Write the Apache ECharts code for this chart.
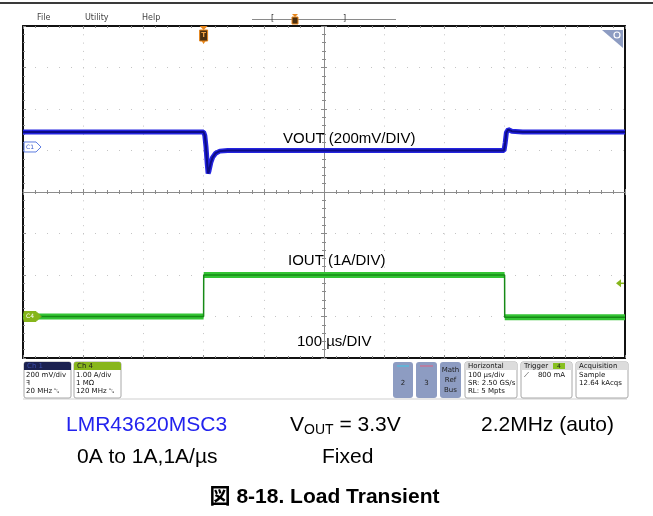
<!DOCTYPE html>
<html><head><meta charset="utf-8">
<script src="https://cdn.jsdelivr.net/npm/echarts@6/dist/echarts.min.js"></script>
<style>html,body{margin:0;padding:0;background:#fff}#c{width:653px;height:516px}</style>
</head><body><div id="c"></div>
<script>
// ---- data (time in µs relative to trigger; 100 µs/div) ----
const voutT  = [-300, 0, 2, 4, 6, 7.5, 9, 12, 15, 20, 27, 40, 200, 499, 501, 503, 506, 512, 530, 700];
const voutMv = [72, 72, 55, 0, -80, -128, -115, -75, -50, -30, -20, -17, -17, -17, 20, 70, 84, 76, 72, 72];
const ioutT  = [-300, 0, 0.2, 500, 500.2, 700];
const ioutA  = [0, 0, 1, 1, -0.02, -0.02];
const trigLevelA = 0.8;

const FONT = '"Liberation Sans", Arial, sans-serif';
const UI = '"DejaVu Sans", "Liberation Sans", sans-serif';

function pairs(t, v){ return t.map((x,i)=>[x, v[i]]); }
function band(t, v){ // break vertical steps so the thick band only follows flat parts
  const out=[];
  for(let i=0;i<t.length;i++){
    if(i>0 && (t[i]-t[i-1])<1){ out.push([t[i], '-']); }
    out.push([t[i], v[i]]);
  }
  return out;
}

const chart = echarts.init(document.getElementById('c'), null, {renderer:'canvas'});
const gridLineCol = '#c4c4c4';
const tickCol = '#8a8a8a';
const xBase = {type:'value', min:-300, max:700, interval:100, axisLabel:{show:false}};
const yBase = {type:'value', min:-1, max:7, interval:1, axisLabel:{show:false}};

const option = {
  animation:false,
  grid:{left:23, top:26, width:602, height:332, containLabel:false},
  xAxis:[
    Object.assign({}, xBase, {position:'bottom', axisLine:{show:true, onZero:false, lineStyle:{color:'#111', width:2}},
      axisTick:{show:true, inside:true, length:3, lineStyle:{color:tickCol}},
      minorTick:{show:true, splitNumber:5, length:2, lineStyle:{color:tickCol}},
      splitLine:{show:true, lineStyle:{color:gridLineCol, type:[1,7.3]}}}),
    Object.assign({}, xBase, {position:'top', axisLine:{show:true, onZero:false, lineStyle:{color:'#111', width:2}},
      axisTick:{show:true, inside:true, length:3, lineStyle:{color:tickCol}},
      minorTick:{show:true, splitNumber:5, length:2, lineStyle:{color:tickCol}}, splitLine:{show:false}}),
    Object.assign({}, xBase, {position:'bottom', offset:-166, axisLine:{show:true, onZero:false, lineStyle:{color:'#8c8c8c', width:1}},
      axisTick:{show:true, inside:false, length:3, lineStyle:{color:tickCol}},
      minorTick:{show:true, splitNumber:5, length:2, lineStyle:{color:tickCol}}, splitLine:{show:false}}),
    Object.assign({}, xBase, {position:'bottom', offset:-166, axisLine:{show:false, onZero:false},
      axisTick:{show:true, inside:true, length:3, lineStyle:{color:tickCol}},
      minorTick:{show:true, splitNumber:5, length:2, lineStyle:{color:tickCol}}, splitLine:{show:false}})
  ],
  yAxis:[
    Object.assign({}, yBase, {position:'left', axisLine:{show:true, onZero:false, lineStyle:{color:'#111', width:2}},
      axisTick:{show:true, inside:true, length:3, lineStyle:{color:tickCol}},
      minorTick:{show:true, splitNumber:5, length:2, lineStyle:{color:tickCol}},
      splitLine:{show:true, lineStyle:{color:gridLineCol, type:[1,11]}}}),
    {type:'value', min:-1017, max:583, position:'right', axisLabel:{show:false},
      axisLine:{show:true, onZero:false, lineStyle:{color:'#111', width:2}}, axisTick:{show:false}, splitLine:{show:false}},
    Object.assign({}, yBase, {position:'left', offset:-301, axisLine:{show:true, onZero:false, lineStyle:{color:'#8c8c8c', width:1}},
      axisTick:{show:true, inside:false, length:3, lineStyle:{color:tickCol}},
      minorTick:{show:true, splitNumber:5, length:2, lineStyle:{color:tickCol}}, splitLine:{show:false}}),
    Object.assign({}, yBase, {position:'left', offset:-301, axisLine:{show:false, onZero:false},
      axisTick:{show:true, inside:true, length:3, lineStyle:{color:tickCol}},
      minorTick:{show:true, splitNumber:5, length:2, lineStyle:{color:tickCol}}, splitLine:{show:false}})
  ],
  series:[
    {name:'IOUT band', type:'line', xAxisIndex:0, yAxisIndex:0, data:band(ioutT, ioutA), showSymbol:false, connectNulls:false,
      lineStyle:{color:'#34c434', width:6}, z:3},
    {name:'IOUT', type:'line', xAxisIndex:0, yAxisIndex:0, data:pairs(ioutT, ioutA), showSymbol:false,
      lineStyle:{color:'#168a16', width:1.5}, z:4},
    {name:'VOUT outer', type:'line', xAxisIndex:0, yAxisIndex:1, data:pairs(voutT, voutMv), showSymbol:false,
      lineStyle:{color:'#2424e0', width:5}, z:3},
    {name:'VOUT', type:'line', xAxisIndex:0, yAxisIndex:1, data:pairs(voutT, voutMv), showSymbol:false,
      lineStyle:{color:'#0c0c86', width:2}, z:4}
  ]
};
chart.setOption(option);

const px = (yi, pt) => chart.convertToPixel({xAxisIndex:0, yAxisIndex:yi}, pt);
const c1y = px(1, [-300, 0])[1];
const c4y = px(0, [-300, 0])[1];
const trgX = px(0, [0, 7])[0];
const tlY = px(0, [0, trigLevelA])[1];

const G = [];
function txt(x,y,s,o){ G.push(Object.assign({type:'text', x:x, y:y, style:Object.assign({text:s, fill:'#000', font:'15px '+FONT, textVerticalAlign:'middle'}, o||{}) , z:50})); }
function rect(x,y,w,h,st,r){ G.push({type:'rect', shape:{x:x,y:y,width:w,height:h,r:r||0}, style:st, z:40}); }
function poly(pts,st){ G.push({type:'polygon', shape:{points:pts}, style:st, z:45}); }
function line(x1,y1,x2,y2,st){ G.push({type:'line', shape:{x1:x1,y1:y1,x2:x2,y2:y2}, style:st, z:40}); }

// top bar
line(0,3,653,3,{stroke:'#3a3a3a', lineWidth:2});
txt(37,18,'File',{font:'8px '+UI, fill:'#444'});
txt(85,18,'Utility',{font:'8px '+UI, fill:'#444'});
txt(142,18,'Help',{font:'8px '+UI, fill:'#444'});
line(252,19.5,396,19.5,{stroke:'#8a8a8a', lineWidth:1});
txt(271,19,'[',{font:'8px '+UI, fill:'#333'});
txt(343,19,']',{font:'8px '+UI, fill:'#333'});
poly([[292,14],[298,14],[295,17]],{fill:'#e8861a'});
rect(292,17,6,7,{fill:'#4a2f10', stroke:'#e8861a', lineWidth:1});

// trigger T marker at top of graticule
poly([[trgX-4,26],[trgX+4,26],[trgX,30]],{fill:'#e8861a'});
rect(trgX-4,30,8,11,{fill:'#4a2f10', stroke:'#e8861a', lineWidth:1});
txt(trgX,35.5,'T',{font:'bold 7px '+UI, fill:'#f0a040', textAlign:'center'});
poly([[trgX-2,41],[trgX+2,41],[trgX,44]],{fill:'#e8861a'});

// magnifier corner
poly([[602,30],[623,30],[623,48]],{fill:'#8d9cc2'});
G.push({type:'circle', shape:{cx:617,cy:35,r:3}, style:{fill:null, stroke:'#fff', lineWidth:1.2}, z:46});
line(615,37,611,42,{stroke:'#fff', lineWidth:1.4});

// channel markers
poly([[24,c1y-5],[36,c1y-5],[41,c1y],[36,c1y+5],[24,c1y+5]],{fill:'#fff', stroke:'#5b7be0', lineWidth:1});
txt(26,c1y,'C1',{font:'6px '+UI, fill:'#4060d0'});
poly([[24,c4y-5],[36,c4y-5],[41,c4y],[36,c4y+5],[24,c4y+5]],{fill:'#86b51b', stroke:'#86b51b', lineWidth:1});
txt(26,c4y,'C4',{font:'6px '+UI, fill:'#fff'});
poly([[616,tlY],[621,tlY-4],[621,tlY+4]],{fill:'#86b51b'});
line(620,tlY,624,tlY,{stroke:'#86b51b', lineWidth:1.5});

// trace labels
txt(283,139,'VOUT (200mV/DIV)',{font:'15px '+FONT});
txt(288,261,'IOUT (1A/DIV)',{font:'15px '+FONT});
txt(297,342,'100 µs/DIV',{font:'15px '+FONT});

// bottom info bar
line(23,399,627,399,{stroke:'#cfcfcf', lineWidth:1});
function chBox(x,w,head,headFill,headText,lines){
  rect(x,362,w,36,{fill:'#fff', stroke:'#a8a8a8', lineWidth:1},2);
  rect(x,362,w,8,{fill:headFill},[2,2,0,0]);
  txt(x+3,366,head,{font:'7px '+UI, fill:headText});
  lines.forEach((s,i)=>txt(x+2,375+i*8,s,{font:'7px '+UI, fill:'#111'}));
}
chBox(24,47,'Ch 1','#1b2150','#3a4aa8',['200 mV/div','ꟻ','20 MHz ␗']);
chBox(74,47,'Ch 4','#88b61c','#222',['1.00 A/div','1 MΩ','120 MHz ␗']);

rect(393,362,20,36,{fill:'#8d9cc2'},3);
line(397,366,409,366,{stroke:'#3cc8e8', lineWidth:1});
txt(403,383,'2',{font:'7px '+UI, fill:'#222', textAlign:'center'});
rect(416,362,21,36,{fill:'#8d9cc2'},3);
line(420,366,433,366,{stroke:'#e06080', lineWidth:1});
txt(426.5,383,'3',{font:'7px '+UI, fill:'#222', textAlign:'center'});
rect(440,362,21,36,{fill:'#8d9cc2'},3);
txt(450.5,370,'Math',{font:'7px '+UI, fill:'#222', textAlign:'center'});
txt(450.5,380,'Ref',{font:'7px '+UI, fill:'#222', textAlign:'center'});
txt(450.5,390,'Bus',{font:'7px '+UI, fill:'#222', textAlign:'center'});

function infoBox(x,w,head,lines){
  rect(x,362,w,36,{fill:'#fff', stroke:'#a8a8a8', lineWidth:1},2);
  rect(x,362,w,8,{fill:'#dcdcdc'},[2,2,0,0]);
  txt(x+3,366,head,{font:'7px '+UI, fill:'#111'});
  lines.forEach((s,i)=>txt(x+3,375+i*8,s,{font:'7px '+UI, fill:'#111'}));
}
infoBox(465,52,'Horizontal',['100 µs/div','SR: 2.50 GS/s','RL: 5 Mpts']);
infoBox(521,51,'Trigger',['⟋    800 mA']);
rect(553,363,12,6,{fill:'#88c020'});
txt(559,366,'4',{font:'6px '+UI, fill:'#222', textAlign:'center'});
infoBox(576,52,'Acquisition',['Sample','12.64 kAcqs']);

// captions below
txt(66,425,'LMR43620MSC3',{font:'21px '+FONT, fill:'#2222ee'});
G.push({type:'text', x:290, y:425, z:50, style:{text:'{a|V}{b|OUT}{a| = 3.3V}', textVerticalAlign:'middle',
  rich:{a:{font:'21px '+FONT, fill:'#000'}, b:{font:'14px '+FONT, fill:'#000', padding:[10,0,0,0]}}}});
txt(481,425,'2.2MHz (auto)',{font:'21px '+FONT});
txt(77,457,'0A to 1A,1A/µs',{font:'21px '+FONT});
txt(322,457,'Fixed',{font:'21px '+FONT});
txt(324.5,497,'図 8-18. Load Transient',{font:'bold 21px "Liberation Sans", "Noto Sans CJK JP", sans-serif', textAlign:'center'});

chart.setOption({graphic:G});
</script></body></html>
